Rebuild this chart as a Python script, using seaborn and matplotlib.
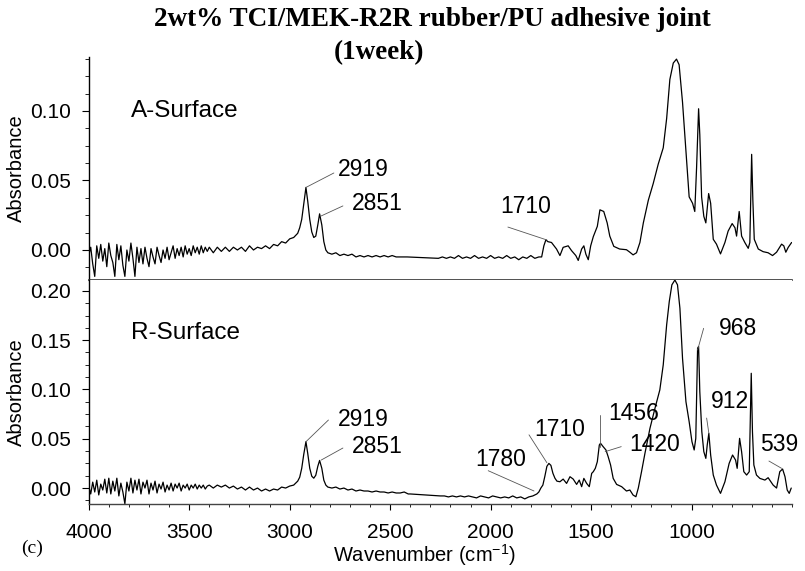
import pandas as pd
import matplotlib.pyplot as plt
import seaborn as sns
from matplotlib.ticker import MultipleLocator

# A-Surface spectrum (wavenumber, absorbance)
a_wn = [4000, 3990, 3980, 3970, 3960, 3950, 3940, 3930, 3920, 3910,
        3900, 3890, 3880, 3870, 3860, 3850, 3840, 3830, 3820, 3810,
        3800, 3790, 3780, 3770, 3760, 3750, 3740, 3730, 3720, 3710,
        3700, 3690, 3680, 3670, 3660, 3650, 3640, 3630, 3620, 3610,
        3600, 3590, 3580, 3570, 3560, 3550, 3540, 3530, 3520, 3510,
        3500, 3490, 3480, 3470, 3460, 3450, 3440, 3430, 3420, 3410,
        3400, 3380, 3360, 3340, 3320, 3300, 3280, 3260, 3240, 3220,
        3200, 3180, 3160, 3140, 3120, 3100, 3080, 3060, 3040, 3020,
        3000, 2980, 2960, 2950, 2940, 2930, 2919, 2910, 2900, 2890,
        2880, 2870, 2860, 2851, 2840, 2830, 2820, 2810, 2790, 2770,
        2750, 2730, 2710, 2690, 2670, 2650, 2630, 2610, 2590, 2570,
        2550, 2530, 2510, 2490, 2470, 2450, 2415, 2260, 2240, 2220,
        2200, 2180, 2160, 2140, 2120, 2100, 2080, 2060, 2040, 2020,
        2000, 1980, 1960, 1940, 1920, 1900, 1880, 1860, 1840, 1820,
        1800, 1780, 1760, 1746, 1735, 1725, 1715, 1697, 1672, 1655,
        1639, 1614, 1597, 1576, 1564, 1547, 1536, 1526, 1514, 1502,
        1489, 1469, 1456, 1437, 1420, 1407, 1387, 1358, 1324, 1307,
        1291, 1274, 1257, 1240, 1215, 1191, 1166, 1141, 1124, 1108,
        1091, 1075, 1062, 1045, 1028, 1012, 995, 984, 975, 965,
        959, 950, 939, 929, 915, 905, 892, 876, 856, 834,
        818, 798, 784, 776, 763, 751, 735, 718, 710, 701,
        695, 688, 668, 644, 619, 597, 577, 552, 541, 531,
        519, 502]
a_abs = [-0.004, 0.002, -0.010, -0.019, 0.003, -0.006, 0.004, -0.008, 0.001, -0.012,
         0.005, -0.004, -0.009, -0.019, 0.004, -0.007, 0.003, -0.011, -0.019, 0.000,
         -0.008, 0.005, -0.006, -0.019, 0.002, -0.009, 0.001, -0.010, 0.002, -0.006,
         -0.012, 0.001, -0.005, -0.010, 0.002, -0.004, -0.009, 0.000, -0.006, 0.002,
         -0.007, -0.002, 0.003, -0.006, 0.001, -0.004, 0.002, -0.005, 0.003, -0.003,
         0.001, -0.004, 0.003, -0.002, 0.002, -0.003, 0.003, -0.002, 0.002, -0.001,
         0.002, -0.002, 0.002, -0.001, 0.002, -0.001, 0.002, 0.000, 0.002, -0.001,
         0.003, 0.000, 0.002, 0.001, 0.003, 0.001, 0.004, 0.003, 0.006, 0.005,
         0.008, 0.009, 0.012, 0.016, 0.022, 0.033, 0.045, 0.035, 0.022, 0.013,
         0.009, 0.010, 0.018, 0.026, 0.018, 0.006, 0.000, -0.002, -0.003, -0.002,
         -0.004, -0.003, -0.004, -0.003, -0.005, -0.004, -0.005, -0.004, -0.005, -0.004,
         -0.005, -0.004, -0.005, -0.004, -0.005, -0.005, -0.005, -0.006, -0.005, -0.006,
         -0.005, -0.006, -0.004, -0.006, -0.005, -0.006, -0.004, -0.006, -0.005, -0.006,
         -0.004, -0.006, -0.005, -0.006, -0.004, -0.006, -0.005, -0.007, -0.005, -0.006,
         -0.004, -0.006, -0.005, -0.005, 0.003, 0.0073, 0.006, 0.0054, 0.0007, -0.004,
         0.0019, 0.003, -0.0005, -0.004, -0.0075, 0.0007, 0.003, -0.003, -0.007, 0.003,
         0.0096, 0.017, 0.0289, 0.0277, 0.0195, 0.010, 0.0026, 0.0007, 0.0002, -0.0016,
         -0.0035, -0.002, 0.0054, 0.0195, 0.0359, 0.0477, 0.0617, 0.0735, 0.0946, 0.1227,
         0.1345, 0.1373, 0.1333, 0.1063, 0.0711, 0.0382, 0.0336, 0.0277, 0.0594, 0.1016,
         0.0829, 0.0382, 0.0242, 0.0195, 0.0406, 0.0336, 0.0077, 0.0042, -0.0028, 0.0054,
         0.0136, 0.019, 0.016, 0.010, 0.0277, 0.010, 0.0054, 0.0012, 0.0054, 0.0688,
         0.0359, 0.0077, 0.0007, -0.0012, -0.002, -0.004, -0.0016, 0.0042, 0.003, -0.0016,
         0.0019, 0.0054]

# R-Surface spectrum
r_wn = [4000, 3990, 3980, 3970, 3960, 3950, 3940, 3930, 3920, 3910,
        3900, 3890, 3880, 3870, 3860, 3850, 3840, 3830, 3820, 3810,
        3800, 3790, 3780, 3770, 3760, 3750, 3740, 3730, 3720, 3710,
        3700, 3690, 3680, 3670, 3660, 3650, 3640, 3630, 3620, 3610,
        3600, 3590, 3580, 3570, 3560, 3550, 3540, 3530, 3520, 3510,
        3500, 3490, 3480, 3470, 3460, 3450, 3440, 3430, 3420, 3410,
        3400, 3380, 3360, 3340, 3320, 3300, 3280, 3260, 3240, 3220,
        3200, 3180, 3160, 3140, 3120, 3100, 3080, 3060, 3040, 3020,
        3000, 2980, 2960, 2950, 2940, 2930, 2919, 2910, 2900, 2890,
        2880, 2870, 2860, 2851, 2840, 2830, 2820, 2810, 2790, 2770,
        2750, 2730, 2710, 2690, 2670, 2650, 2630, 2610, 2590, 2570,
        2550, 2530, 2510, 2490, 2470, 2450, 2430, 2410, 2400, 2250,
        2230, 2210, 2190, 2170, 2150, 2130, 2110, 2090, 2070, 2050,
        2030, 2010, 1990, 1970, 1950, 1930, 1910, 1890, 1870, 1850,
        1830, 1810, 1790, 1770, 1760, 1750, 1740, 1730, 1720, 1710,
        1700, 1690, 1680, 1670, 1655, 1639, 1622, 1605, 1589, 1572,
        1559, 1547, 1536, 1522, 1509, 1497, 1489, 1479, 1469, 1459,
        1453, 1440, 1426, 1415, 1403, 1390, 1373, 1348, 1324, 1307,
        1291, 1277, 1265, 1249, 1232, 1207, 1182, 1158, 1141, 1124,
        1111, 1098, 1083, 1070, 1058, 1045, 1028, 1012, 998, 987,
        979, 970, 965, 959, 949, 939, 929, 922, 914, 905,
        892, 876, 856, 834, 813, 796, 781, 773, 761, 751,
        740, 726, 713, 703, 697, 690, 677, 660, 635, 619,
        594, 577, 561, 547, 535, 524, 514, 504]
r_abs = [0.002, -0.006, 0.006, -0.004, 0.008, -0.007, 0.004, -0.002, 0.009, -0.005,
         0.010, -0.006, 0.007, -0.003, 0.010, -0.008, 0.005, -0.004, -0.016, 0.006,
         -0.003, 0.010, -0.005, 0.008, -0.002, 0.009, -0.006, 0.006, 0.000, 0.008,
         -0.006, 0.005, -0.002, 0.007, -0.005, 0.004, -0.001, 0.006, -0.004, 0.003,
         -0.002, 0.005, -0.003, 0.004, 0.000, 0.005, -0.003, 0.003, 0.000, 0.004,
         -0.002, 0.003, 0.000, 0.004, -0.001, 0.003, 0.000, 0.003, -0.001, 0.002,
         0.003, 0.000, 0.003, 0.001, 0.003, 0.000, 0.002, -0.001, 0.001, -0.002,
         0.001, -0.002, 0.000, -0.003, -0.001, -0.003, -0.001, -0.002, 0.001, 0.000,
         0.002, 0.003, 0.007, 0.011, 0.020, 0.034, 0.047, 0.035, 0.020, 0.012,
         0.010, 0.013, 0.022, 0.028, 0.020, 0.008, 0.003, 0.001, 0.000, 0.001,
         -0.001, 0.000, -0.002, -0.001, -0.003, -0.002, -0.003, -0.003, -0.004, -0.003,
         -0.004, -0.004, -0.005, -0.004, -0.005, -0.005, -0.004, -0.006, -0.006, -0.008,
         -0.008, -0.009, -0.008, -0.009, -0.008, -0.009, -0.008, -0.009, -0.010, -0.008,
         -0.009, -0.010, -0.008, -0.009, -0.010, -0.009, -0.010, -0.008, -0.010, -0.009,
         -0.011, -0.009, -0.008, -0.006, -0.004, 0.000, 0.003, 0.012, 0.022, 0.025,
         0.023, 0.015, 0.010, 0.007, 0.0064, 0.0091, 0.0047, 0.0115, 0.0091, 0.0037,
         0.0081, 0.0014, 0.0098, 0.0047, 0.0014, 0.0149, 0.0166, 0.020, 0.0267, 0.0437,
         0.0454, 0.042, 0.0386, 0.0318, 0.0234, 0.0098, 0.0037, 0.0014, -0.003, -0.002,
         -0.0071, -0.0088, 0.000, 0.0166, 0.0352, 0.0606, 0.081, 0.0995, 0.1249, 0.1655,
         0.1891, 0.2061, 0.211, 0.2061, 0.1824, 0.1316, 0.0876, 0.0673, 0.047, 0.0386,
         0.0504, 0.1418, 0.1435, 0.0978, 0.0572, 0.0369, 0.0301, 0.0437, 0.0555, 0.0335,
         0.0132, 0.003, -0.0054, 0.0064, 0.025, 0.0335, 0.0284, 0.020, 0.0504, 0.0369,
         0.0166, 0.0132, 0.0166, 0.1164, 0.0572, 0.0234, 0.0132, 0.0098, 0.0081, 0.0105,
         0.003, 0.000, 0.0166, 0.0193, 0.0115, -0.002, -0.0054, 0.000]

# peak labels: text, leader line from peak to label, text position
a_peaks = ['2919', '2851', '1710']
a_line_start = [(2919, 0.045), (2843, 0.0245), (1720, 0.0072)]
a_line_end = [(2780, 0.0554), (2735, 0.0317), (1914, 0.0165)]
a_text_pos = [(2760, 0.058), (2690, 0.0335), (1953, 0.031)]

r_peaks = ['2919', '2851', '1780', '1710', '1456', '1420', '968', '912', '539']
r_line_start = [(2919, 0.047), (2843, 0.0284), (1784, -0.003), (1720, 0.0257),
                (1456, 0.042), (1430, 0.0369), (970, 0.140), (914, 0.0556), (552, 0.020)]
r_line_end = [(2807, 0.069), (2735, 0.0406), (2012, 0.0176), (1809, 0.054),
              (1456, 0.074), (1350, 0.042), (940, 0.162), (925, 0.071), (615, 0.0274)]
r_text_pos = [(2760, 0.070), (2690, 0.0426), (2075, 0.029), (1784, 0.059),
              (1415, 0.076), (1310, 0.0437), (863, 0.162), (904, 0.088), (660, 0.0437)]

df_a = pd.DataFrame({'wn': a_wn, 'abs': a_abs})
df_r = pd.DataFrame({'wn': r_wn, 'abs': r_abs})

sns.set_theme(style='white')
plt.rcParams['font.family'] = ['Liberation Sans', 'DejaVu Sans']
plt.rcParams['mathtext.fontset'] = 'custom'
plt.rcParams['mathtext.rm'] = 'Liberation Sans'
plt.rcParams['mathtext.it'] = 'Liberation Sans:italic'
plt.rcParams['text.color'] = 'black'
plt.rcParams['axes.labelcolor'] = 'black'

fig = plt.figure(figsize=(8.05, 5.71), dpi=100)
ax1 = fig.add_axes([0.1102, 0.5096, 0.8737, 0.3905])
ax2 = fig.add_axes([0.1102, 0.1173, 0.8737, 0.3923])

sns.lineplot(data=df_a, x='wn', y='abs', ax=ax1, color='black', lw=0.9, errorbar=None, sort=False)
sns.lineplot(data=df_r, x='wn', y='abs', ax=ax2, color='black', lw=0.9, errorbar=None, sort=False)

ax1.set_xlim(4000, 500)
ax2.set_xlim(4000, 500)
ax1.set_ylim(-0.0216, 0.1388)
ax2.set_ylim(-0.0162, 0.211)

for ax in (ax1, ax2):
    ax.spines['right'].set_visible(False)
    ax.spines['left'].set_linewidth(1.0)
    ax.spines['left'].set_color('black')
    ax.yaxis.set_minor_locator(MultipleLocator(0.0125))
    ax.tick_params(axis='y', which='major', left=True, length=5, width=0.8,
                   color='black', labelsize=15, pad=8, labelcolor='black')
    ax.tick_params(axis='y', which='minor', left=True, length=3, width=0.6, color='black')
    ax.set_ylabel('Absorbance', fontsize=14.5, color='black')
    ax.yaxis.set_label_coords(-0.089, 0.5)

ax1.spines['top'].set_visible(False)
ax1.spines['bottom'].set_color('#333333')
ax1.spines['bottom'].set_linewidth(1.2)
ax2.spines['top'].set_visible(False)
ax2.spines['bottom'].set_color('#444444')
ax2.spines['bottom'].set_linewidth(1.0)

ax1.set_yticks([0.00, 0.05, 0.10])
ax1.set_yticklabels(['0.00', '0.05', '0.10'])
ax2.set_yticks([0.00, 0.05, 0.10, 0.15, 0.20])
ax2.set_yticklabels(['0.00', '0.05', '0.10', '0.15', '0.20'])

ax1.set_xticks([])
ax1.set_xlabel('')
ax2.set_xticks([4000, 3500, 3000, 2500, 2000, 1500, 1000])
ax2.xaxis.set_minor_locator(MultipleLocator(100))
ax2.tick_params(axis='x', which='major', bottom=True, length=4, width=0.8,
                color='black', labelsize=15, pad=10, labelcolor='black')
ax2.tick_params(axis='x', which='minor', bottom=True, length=2.5, width=0.6, color='black')
ax2.set_xlabel(r'Wavenumber (cm$^{\mathregular{-1}}$)', fontsize=14.5, color='black')
ax2.xaxis.set_label_coords(0.478, -0.172)

ax1.text(3790, 0.10, 'A-Surface', fontsize=17.5, ha='left', va='center', color='black')
ax2.text(3790, 0.157, 'R-Surface', fontsize=17.5, ha='left', va='center', color='black')

for ax, names, starts, ends, pos in [(ax1, a_peaks, a_line_start, a_line_end, a_text_pos),
                                     (ax2, r_peaks, r_line_start, r_line_end, r_text_pos)]:
    for name, s, e, p in zip(names, starts, ends, pos):
        ax.plot([s[0], e[0]], [s[1], e[1]], color='#555555', lw=0.6)
        ax.text(p[0], p[1], name, fontsize=16.5, ha='left', va='center', color='black',
                clip_on=False)

fig.text(0.537, 0.965, '2wt% TCI/MEK-R2R rubber/PU adhesive joint', ha='center', va='center',
         fontsize=19.5, fontweight='bold', color='black', family=['Liberation Serif', 'DejaVu Serif'])
fig.text(0.471, 0.907, '(1week)', ha='center', va='center', color='black',
         fontsize=19.5, fontweight='bold', family=['Liberation Serif', 'DejaVu Serif'])
fig.text(0.040, 0.040, '(c)', ha='center', va='center', fontsize=14, color='black',
         family=['Liberation Serif', 'DejaVu Serif'])

fig.savefig('out.png', dpi=100)
